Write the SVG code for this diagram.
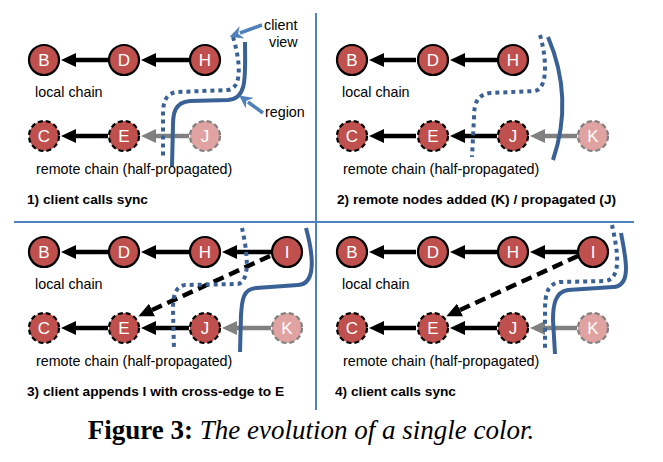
<svg xmlns="http://www.w3.org/2000/svg" width="663" height="462" viewBox="0 0 663 462">
<style>
.n{fill:#C0504D;stroke:#000;stroke-width:2.2}
.r{stroke-dasharray:5 3}
.l{fill:#E0A3A2;stroke:#808080;stroke-width:2.2;stroke-dasharray:5 3}
.t{font-family:"Liberation Sans",Arial,sans-serif;font-size:17px;fill:#fff;text-anchor:middle}
.e{stroke:#000;stroke-width:4.5;fill:none}
.g{stroke:#808080}
.d{stroke-dasharray:11 6}
.c{stroke:#3A6195;stroke-width:4;fill:none}
.dot{stroke-dasharray:4 4}
.co{stroke:#4F81BD;stroke-width:3.5;fill:none}
.lb{font-family:"Liberation Sans",Arial,sans-serif;font-size:14.3px;fill:#000}
.b{font-weight:bold;font-size:13.7px}
.div{stroke:#4F81BD;stroke-width:2}
</style>
<defs>
<marker id="ab" markerUnits="userSpaceOnUse" markerWidth="15" markerHeight="14" viewBox="0 0 15 14" refX="0" refY="7" orient="auto"><path d="M0,0 L15,7 L0,14 z" fill="#000"/></marker>
<marker id="ag" markerUnits="userSpaceOnUse" markerWidth="15" markerHeight="14" viewBox="0 0 15 14" refX="0" refY="7" orient="auto"><path d="M0,0 L15,7 L0,14 z" fill="#808080"/></marker>
<marker id="ac" markerUnits="userSpaceOnUse" markerWidth="13" markerHeight="13" viewBox="0 0 13 13" refX="2" refY="6.5" orient="auto"><path d="M0,0 L13,6.5 L0,13 L4,6.5 z" fill="#4F81BD"/></marker>
</defs>

<g id="dividers">
<line class="div" x1="316" y1="13" x2="316" y2="410"/>
<line class="div" x1="14" y1="222" x2="634" y2="222"/>
</g>

<g id="connectors">
<line class="e" x1="108" y1="60" x2="76" y2="60" marker-end="url(#ab)"/>
<line class="e" x1="189" y1="60" x2="156" y2="60" marker-end="url(#ab)"/>
<line class="e" x1="108" y1="136" x2="76" y2="136" marker-end="url(#ab)"/>
<line class="e g" x1="189" y1="136" x2="156" y2="136" marker-end="url(#ag)"/>
<line class="e" x1="416" y1="60" x2="384" y2="60" marker-end="url(#ab)"/>
<line class="e" x1="497" y1="60" x2="465" y2="60" marker-end="url(#ab)"/>
<line class="e" x1="416" y1="136" x2="384" y2="136" marker-end="url(#ab)"/>
<line class="e" x1="497" y1="136" x2="465" y2="136" marker-end="url(#ab)"/>
<line class="e g" x1="577" y1="136" x2="545" y2="136" marker-end="url(#ag)"/>
<line class="e" x1="108" y1="252" x2="76" y2="252" marker-end="url(#ab)"/>
<line class="e" x1="189" y1="252" x2="156" y2="252" marker-end="url(#ab)"/>
<line class="e" x1="271" y1="252" x2="237" y2="252" marker-end="url(#ab)"/>
<line class="e" x1="108" y1="328" x2="76" y2="328" marker-end="url(#ab)"/>
<line class="e" x1="189" y1="328" x2="156" y2="328" marker-end="url(#ab)"/>
<line class="e g" x1="271" y1="328" x2="237" y2="328" marker-end="url(#ag)"/>
<line class="e d" x1="270" y1="256" x2="152" y2="310" marker-end="url(#ab)"/>
<line class="e" x1="416" y1="252" x2="384" y2="252" marker-end="url(#ab)"/>
<line class="e" x1="497" y1="252" x2="465" y2="252" marker-end="url(#ab)"/>
<line class="e" x1="577" y1="252" x2="545" y2="252" marker-end="url(#ab)"/>
<line class="e" x1="416" y1="328" x2="384" y2="328" marker-end="url(#ab)"/>
<line class="e" x1="497" y1="328" x2="465" y2="328" marker-end="url(#ab)"/>
<line class="e g" x1="577" y1="328" x2="545" y2="328" marker-end="url(#ag)"/>
<line class="e d" x1="578" y1="256" x2="460" y2="310" marker-end="url(#ab)"/>
</g>

<g id="nodes">
<g id="p1-B"><circle class="n" cx="44" cy="60" r="15"/><text class="t" x="44" y="66">B</text></g>
<g id="p1-D"><circle class="n" cx="124" cy="60" r="15"/><text class="t" x="124" y="66">D</text></g>
<g id="p1-H"><circle class="n" cx="205" cy="60" r="15"/><text class="t" x="205" y="66">H</text></g>
<g id="p1-C"><circle class="n r" cx="44" cy="136" r="15"/><text class="t" x="44" y="142">C</text></g>
<g id="p1-E"><circle class="n r" cx="124" cy="136" r="15"/><text class="t" x="124" y="142">E</text></g>
<g id="p1-J"><circle class="l" cx="205" cy="136" r="15"/><text class="t" x="205" y="142">J</text></g>

<g id="p2-B"><circle class="n" cx="352" cy="60" r="15"/><text class="t" x="352" y="66">B</text></g>
<g id="p2-D"><circle class="n" cx="433" cy="60" r="15"/><text class="t" x="433" y="66">D</text></g>
<g id="p2-H"><circle class="n" cx="513" cy="60" r="15"/><text class="t" x="513" y="66">H</text></g>
<g id="p2-C"><circle class="n r" cx="352" cy="136" r="15"/><text class="t" x="352" y="142">C</text></g>
<g id="p2-E"><circle class="n r" cx="433" cy="136" r="15"/><text class="t" x="433" y="142">E</text></g>
<g id="p2-J"><circle class="n r" cx="513" cy="136" r="15"/><text class="t" x="513" y="142">J</text></g>
<g id="p2-K"><circle class="l" cx="593" cy="136" r="15"/><text class="t" x="593" y="142">K</text></g>

<g id="p3-B"><circle class="n" cx="44" cy="252" r="15"/><text class="t" x="44" y="258">B</text></g>
<g id="p3-D"><circle class="n" cx="124" cy="252" r="15"/><text class="t" x="124" y="258">D</text></g>
<g id="p3-H"><circle class="n" cx="205" cy="252" r="15"/><text class="t" x="205" y="258">H</text></g>
<g id="p3-I"><circle class="n" cx="287" cy="252" r="15"/><text class="t" x="287" y="258">I</text></g>
<g id="p3-C"><circle class="n r" cx="44" cy="328" r="15"/><text class="t" x="44" y="334">C</text></g>
<g id="p3-E"><circle class="n r" cx="124" cy="328" r="15"/><text class="t" x="124" y="334">E</text></g>
<g id="p3-J"><circle class="n r" cx="205" cy="328" r="15"/><text class="t" x="205" y="334">J</text></g>
<g id="p3-K"><circle class="l" cx="287" cy="328" r="15"/><text class="t" x="287" y="334">K</text></g>

<g id="p4-B"><circle class="n" cx="352" cy="252" r="15"/><text class="t" x="352" y="258">B</text></g>
<g id="p4-D"><circle class="n" cx="433" cy="252" r="15"/><text class="t" x="433" y="258">D</text></g>
<g id="p4-H"><circle class="n" cx="513" cy="252" r="15"/><text class="t" x="513" y="258">H</text></g>
<g id="p4-I"><circle class="n" cx="593" cy="252" r="15"/><text class="t" x="593" y="258">I</text></g>
<g id="p4-C"><circle class="n r" cx="352" cy="328" r="15"/><text class="t" x="352" y="334">C</text></g>
<g id="p4-E"><circle class="n r" cx="433" cy="328" r="15"/><text class="t" x="433" y="334">E</text></g>
<g id="p4-J"><circle class="n r" cx="513" cy="328" r="15"/><text class="t" x="513" y="334">J</text></g>
<g id="p4-K"><circle class="l" cx="593" cy="328" r="15"/><text class="t" x="593" y="334">K</text></g>
</g>

<g id="regions">
<path class="c" d="M245,42 C245,75 248,99 228,100 L190,101 C174,102 173,115 173,125 L172,166"/>
<path class="c dot" d="M233,37 C240,60 243,88 228,90 L178,92 C164,93 163,105 163,115 L163,158"/>
<path class="c" d="M548,37 Q574,98 553,160"/>
<path class="c dot" d="M540,35 C546,55 549,88 535,91 L490,93 C476,95 474,105 474,118 L472,157"/>
<path class="c dot" d="M242,228 C247,250 251,281 238,284 L185,285 C174,287 173,298 173,310 L174,350"/>
<path class="c" d="M306,228 C312,250 318,284 298,285 L256,288 C243,289 242,300 241,315 L240,352"/>
<path class="c dot" d="M612,225 C617,248 623,279 605,281 L560,282 C547,284 545,295 545,310 L545,348"/>
<path class="c" d="M621,233 C625,255 633,286 613,287 L568,290 C555,292 553,305 553,320 L555,354"/>
</g>

<g id="callouts">
<line class="co" x1="262" y1="25" x2="240" y2="33" marker-end="url(#ac)"/>
<line class="co" x1="263" y1="113" x2="248" y2="102" marker-end="url(#ac)"/>
<text class="lb" x="264" y="30">client</text>
<text class="lb" x="269" y="47">view</text>
<text class="lb" x="265" y="117">region</text>
</g>

<g id="labels">
<text class="lb" x="35" y="97">local chain</text>
<text class="lb" x="36" y="174">remote chain (half-propagated)</text>
<text class="lb b" x="27" y="204">1) client calls sync</text>
<text class="lb" x="342" y="97">local chain</text>
<text class="lb" x="343" y="174">remote chain (half-propagated)</text>
<text class="lb b" x="337" y="204">2) remote nodes added (K) / propagated (J)</text>
<text class="lb" x="35" y="289">local chain</text>
<text class="lb" x="36" y="366">remote chain (half-propagated)</text>
<text class="lb b" x="27" y="396">3) client appends I with cross-edge to E</text>
<text class="lb" x="342" y="289">local chain</text>
<text class="lb" x="343" y="366">remote chain (half-propagated)</text>
<text class="lb b" x="335" y="396">4) client calls sync</text>
</g>

<text x="311" y="439" text-anchor="middle" font-family="'Liberation Serif','Times New Roman',serif" font-size="27"><tspan font-weight="bold">Figure 3:</tspan> <tspan font-style="italic">The evolution of a single color.</tspan></text>
</svg>
